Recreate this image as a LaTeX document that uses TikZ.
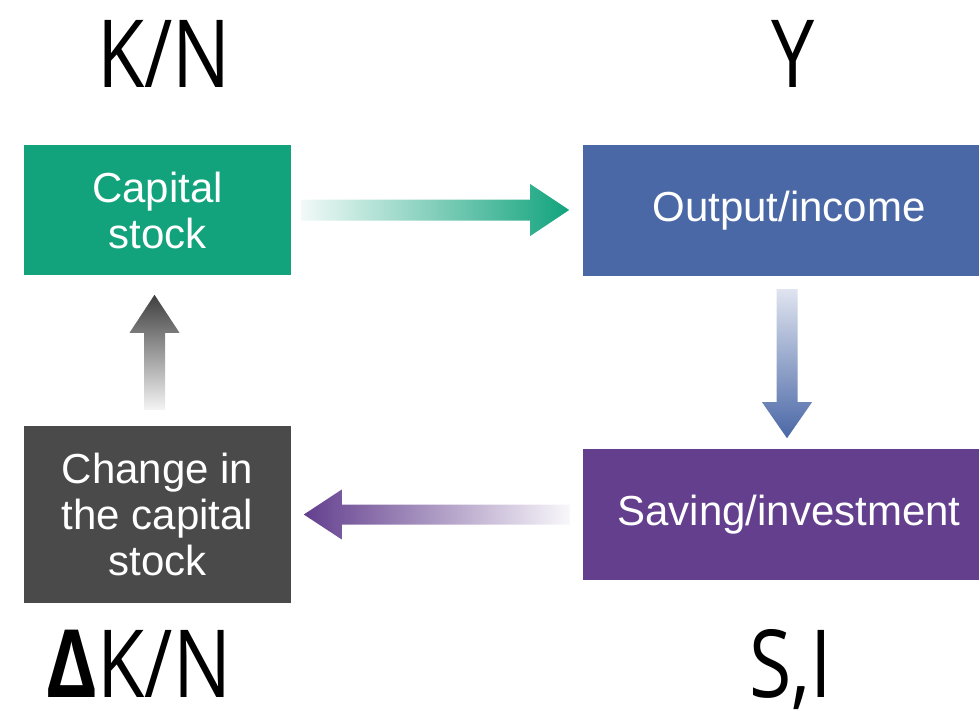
\documentclass[tikz,border=0pt]{standalone}
\usepackage{fontspec}
\setmainfont{Liberation Sans}
\newfontfamily\varfont[FakeStretch=0.82]{Open Sans}
\usetikzlibrary{calc}

\definecolor{capgreen}{RGB}{18,163,125}
\definecolor{outblue}{RGB}{74,103,166}
\definecolor{savpurple}{RGB}{99,63,142}
\definecolor{chggrey}{RGB}{74,74,74}

\tikzset{
    box/.style={inner sep=0pt, align=center, text=white,
        font=\fontsize{42}{46}\selectfont},
    varname/.style={anchor=base, inner sep=0pt, text depth=0pt,
        font=\varfont\fontsize{94}{100}\selectfont}
}

\begin{document}
\begin{tikzpicture}[x=1pt,y=-1pt]
        \useasboundingbox (0,0) rectangle (979,713);
        \clip (0,0) rectangle (979,713);

        \node [box, fill=capgreen, minimum width=267, minimum height=130] (cap) at (157.5,210) {Capital\\stock};
        \node [box, fill=outblue, minimum width=412, minimum height=131] (out) at (789,210.5) {Output/income};
        \node [box, fill=savpurple, minimum width=412, minimum height=131] (sav) at (789,514.5) {Saving/investment};
        \node [box, fill=chggrey, minimum width=267, minimum height=177] (chg) at (157.5,514.5) {Change in\\the capital\\stock};

        \node [varname] (kn) at (164,87) {K/N};
        \node [varname] (y) at (793,87) {Y};
        \node [varname] (dkn) at (139,697) {{\bfseries Δ}K/N};
        \node [varname] (si) at (791,697) {S,I};

        % capital stock -> output/income
        \shade [left color=capgreen!6, right color=capgreen]
            ($(cap.east)+(10,-10.5)$) -- ++(229,0) -- ++(0,-15.5) -- ++(39,26)
            -- ++(-39,26) -- ++(0,-15.5) -- ++(-229,0) -- cycle;
        % output/income -> saving/investment
        \shade [top color=outblue!18, bottom color=outblue]
            ($(out.south)+(-12.5,13)$) -- ++(0,113) -- ++(-14.5,0) -- ++(25,36)
            -- ++(25,-36) -- ++(-14.5,0) -- ++(0,-113) -- cycle;
        % saving/investment -> change in the capital stock
        \shade [left color=savpurple, right color=savpurple!4]
            ($(sav.west)+(-13,-10)$) -- ++(-228,0) -- ++(0,-15) -- ++(-38,25)
            -- ++(38,25) -- ++(0,-15) -- ++(228,0) -- cycle;
        % change in the capital stock -> capital stock
        \shade [top color=chggrey!85!black, bottom color=chggrey!6]
            ($(chg.north)+(-13.5,-16)$) -- ++(0,-77) -- ++(-14.5,0) -- ++(25,-38)
            -- ++(25,38) -- ++(-14.5,0) -- ++(0,77) -- cycle;
\end{tikzpicture}
\end{document}
